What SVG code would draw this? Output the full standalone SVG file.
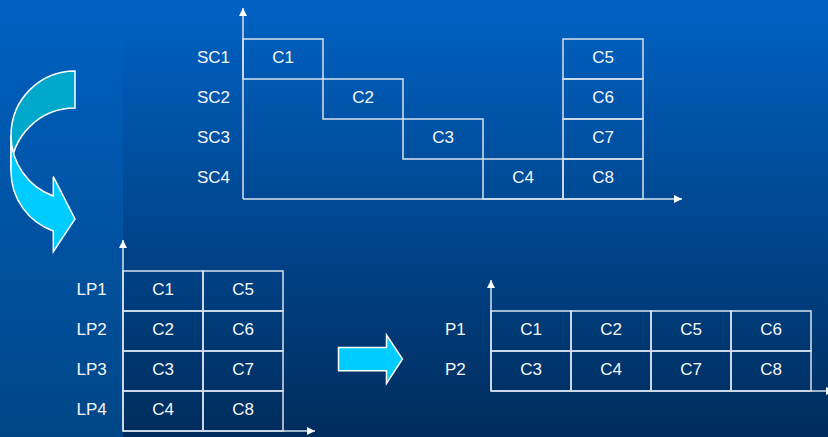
<svg xmlns="http://www.w3.org/2000/svg" width="828" height="437" viewBox="0 0 828 437">
<defs>
<linearGradient id="bgMain" x1="0" y1="0" x2="0" y2="1">
<stop offset="0" stop-color="#0062c4"/>
<stop offset="1" stop-color="#002c5c"/>
</linearGradient>
<linearGradient id="bgLeft" x1="0" y1="0" x2="0" y2="1">
<stop offset="0" stop-color="#0061c2"/>
<stop offset="1" stop-color="#004686"/>
</linearGradient>
<marker id="ah" viewBox="0 0 8 8" refX="8" refY="4" markerWidth="8" markerHeight="8" markerUnits="userSpaceOnUse" orient="auto">
<path d="M0,0 L8,4 L0,8 Z" fill="#ffffff"/>
</marker>
</defs>
<style>
.cell{fill:none;stroke:#d6e2ee;stroke-width:1.5}
.axis{fill:none;stroke:#d6e2ee;stroke-width:1.5;marker-end:url(#ah)}
text{font-family:"Liberation Sans",Arial,sans-serif;font-size:17px;fill:#f4f7fa}
.c{text-anchor:middle}
.big{stroke:#ffffff;stroke-width:1.5;stroke-linejoin:miter}
</style>
<rect x="0" y="0" width="828" height="437" fill="url(#bgMain)"/>
<rect x="0" y="0" width="123" height="437" fill="url(#bgLeft)"/>

<g id="connectors">
<g id="curved-arrow">
<path class="big" fill="#00a8cc" d="M75,71 A64,64.5 0 0 0 11,135.5 L11,171.5 A64,63.4 0 0 1 75,108 Z"/>
<path class="big" fill="#00ccff" d="M11,135.5 A64,64.5 0 0 0 53.3,196 L53.3,176.7 L75,219 L53.3,251.7 L53.3,231 A64,63.4 0 0 1 11,171.5 Z"/>
</g>
<path id="right-arrow" class="big" fill="#00ccff" d="M338.5,347.5 L386.5,347.5 L386.5,335 L402.5,359 L386.5,383.5 L386.5,370.7 L338.5,370.7 Z"/>
<g id="axes">
<path class="axis" d="M243,199 L243,8"/>
<path class="axis" d="M243,199 L682,199"/>
<path class="axis" d="M123,431 L123,240"/>
<path class="axis" d="M123,431 L315,431"/>
<path class="axis" d="M491,391 L491,280"/>
<path class="axis" d="M491,391 L834,391"/>
</g>
</g>

<g id="chart-sc">
<text x="197" y="62.5">SC1</text>
<text x="197" y="102.5">SC2</text>
<text x="197" y="142.5">SC3</text>
<text x="197" y="182.5">SC4</text>
<g id="sc-c1"><rect class="cell" x="243" y="39" width="80" height="40"/><text class="c" x="283" y="63">C1</text></g>
<g id="sc-c2"><rect class="cell" x="323" y="79" width="80" height="40"/><text class="c" x="363" y="103">C2</text></g>
<g id="sc-c3"><rect class="cell" x="403" y="119" width="80" height="40"/><text class="c" x="443" y="143">C3</text></g>
<g id="sc-c4"><rect class="cell" x="483" y="159" width="80" height="40"/><text class="c" x="523" y="183">C4</text></g>
<g id="sc-c5"><rect class="cell" x="563" y="39" width="80" height="40"/><text class="c" x="603" y="63">C5</text></g>
<g id="sc-c6"><rect class="cell" x="563" y="79" width="80" height="40"/><text class="c" x="603" y="103">C6</text></g>
<g id="sc-c7"><rect class="cell" x="563" y="119" width="80" height="40"/><text class="c" x="603" y="143">C7</text></g>
<g id="sc-c8"><rect class="cell" x="563" y="159" width="80" height="40"/><text class="c" x="603" y="183">C8</text></g>
</g>

<g id="chart-lp">
<text x="76.5" y="294.5">LP1</text>
<text x="76.5" y="334.5">LP2</text>
<text x="76.5" y="374.5">LP3</text>
<text x="76.5" y="414.5">LP4</text>
<g id="lp-c1"><rect class="cell" x="123" y="271" width="80" height="40"/><text class="c" x="163" y="295">C1</text></g>
<g id="lp-c5"><rect class="cell" x="203" y="271" width="80" height="40"/><text class="c" x="243" y="295">C5</text></g>
<g id="lp-c2"><rect class="cell" x="123" y="311" width="80" height="40"/><text class="c" x="163" y="335">C2</text></g>
<g id="lp-c6"><rect class="cell" x="203" y="311" width="80" height="40"/><text class="c" x="243" y="335">C6</text></g>
<g id="lp-c3"><rect class="cell" x="123" y="351" width="80" height="40"/><text class="c" x="163" y="375">C3</text></g>
<g id="lp-c7"><rect class="cell" x="203" y="351" width="80" height="40"/><text class="c" x="243" y="375">C7</text></g>
<g id="lp-c4"><rect class="cell" x="123" y="391" width="80" height="40"/><text class="c" x="163" y="415">C4</text></g>
<g id="lp-c8"><rect class="cell" x="203" y="391" width="80" height="40"/><text class="c" x="243" y="415">C8</text></g>
</g>

<g id="chart-p">
<text x="445" y="334.5">P1</text>
<text x="445" y="374.5">P2</text>
<g id="p-c1"><rect class="cell" x="491" y="311" width="80" height="40"/><text class="c" x="531" y="335">C1</text></g>
<g id="p-c2"><rect class="cell" x="571" y="311" width="80" height="40"/><text class="c" x="611" y="335">C2</text></g>
<g id="p-c5"><rect class="cell" x="651" y="311" width="80" height="40"/><text class="c" x="691" y="335">C5</text></g>
<g id="p-c6"><rect class="cell" x="731" y="311" width="80" height="40"/><text class="c" x="771" y="335">C6</text></g>
<g id="p-c3"><rect class="cell" x="491" y="351" width="80" height="40"/><text class="c" x="531" y="375">C3</text></g>
<g id="p-c4"><rect class="cell" x="571" y="351" width="80" height="40"/><text class="c" x="611" y="375">C4</text></g>
<g id="p-c7"><rect class="cell" x="651" y="351" width="80" height="40"/><text class="c" x="691" y="375">C7</text></g>
<g id="p-c8"><rect class="cell" x="731" y="351" width="80" height="40"/><text class="c" x="771" y="375">C8</text></g>
</g>
</svg>
